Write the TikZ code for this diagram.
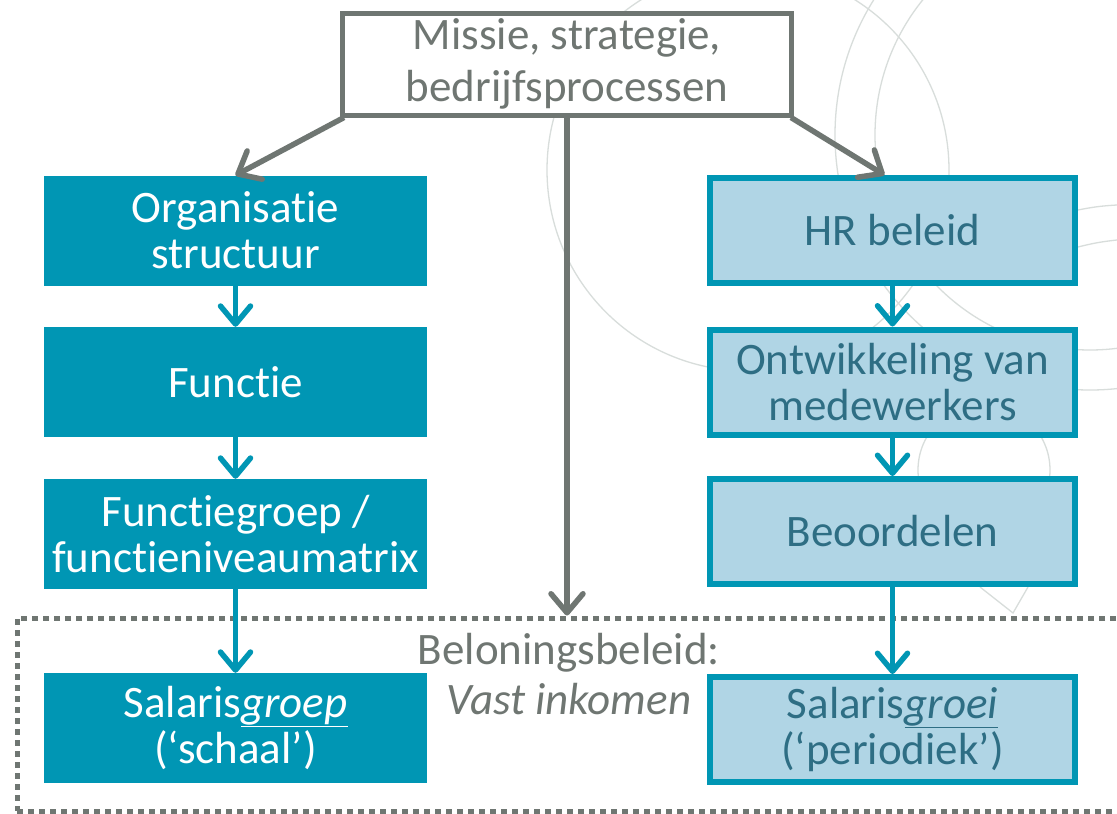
\documentclass[tikz,border=0pt]{standalone}
\usepackage{fontspec}
\setmainfont{Carlito}[Ligatures=NoCommon]
\usepackage{tikz}
\definecolor{slategray}{RGB}{111, 118, 114}
\definecolor{petrol}{RGB}{0, 150, 180}
\definecolor{paleblue}{RGB}{176, 213, 229}
\definecolor{deeppetrol}{RGB}{46, 110, 132}
\definecolor{ringgray}{RGB}{216, 221, 219}
\usetikzlibrary{arrows.meta, positioning}

\begin{document}
\begin{tikzpicture}[
    x=1pt, y=-1pt,
    every node/.style={font=\fontsize{45}{46}\selectfont, align=center, inner sep=0pt},
    missionbox/.style={rectangle, draw=slategray, line width=5pt, fill=white, text=slategray, minimum width=449pt, minimum height=102pt, font=\fontsize{45}{52}\selectfont},
    orgbox/.style={rectangle, fill=petrol, text=white, minimum width=383pt, minimum height=110pt},
    hrbox/.style={rectangle, draw=petrol, line width=6pt, fill=paleblue, text=deeppetrol, minimum width=365pt, minimum height=105pt},
    payframe/.style={rectangle, draw=slategray, line width=5pt, dash pattern=on 6pt off 5pt, minimum width=1113pt, minimum height=193pt},
    flow/.style={draw=petrol, line width=5.5pt, -{Straight Barb[round, length=18pt, width=30pt]}},
    mainflow/.style={draw=slategray, line width=5.5pt, -{Straight Barb[round, length=19pt, width=32pt]}},
    ring/.style={draw=ringgray, line width=1.3pt}
]
    \useasboundingbox[fill=white] (0,0) rectangle (1117,814);

    % Logo rings in the background
    \begin{scope}
        \clip (0,0) rectangle (1117,814);
        \draw[ring] (748,170) circle[radius=201pt];
        \draw[ring] (1090,135) circle[radius=255pt];
        \draw[ring] (1090,135) circle[radius=215pt];
        \draw[ring] (984,470) circle[radius=66pt];
        \draw[ring] (1078,210) to[bend left=4] (1117,205);
        \draw[ring] (1078,247) to[bend left=4] (1117,240);
        \draw[ring] (980,587) -- (1013,613) -- (1028,587);
    \end{scope}

    % Mission
    \node[missionbox] (miss) at (567, 64) {Missie, strategie,\\bedrijfsprocessen};

    % Organisation column
    \node[orgbox] (org) at (235.5, 230.5) {Organisatie\\structuur};
    \node[orgbox] (func) at (235.5, 382) {Functie};
    \node[orgbox] (fgrp) at (235.5, 534) {Functiegroep /\\functieniveaumatrix};
    \node[orgbox] (sgrp) at (235.5, 728) {Salaris\underline{\textit{groep}}\\(‘schaal’)};

    % HR column
    \node[hrbox] (hr) at (892.5, 230.5) {HR beleid};
    \node[hrbox] (ontw) at (892.5, 382) {Ontwikkeling van\\medewerkers};
    \node[hrbox] (beoo) at (892.5, 531.5) {Beoordelen};
    \node[hrbox] (sgroei) at (892.5, 729.5) {Salaris\underline{\textit{groei}}\\(‘periodiek’)};

    % Reward policy frame
    \node[payframe] (pay) at (573.5, 714.5) {};
    \node[text=slategray, font=\fontsize{45}{50}\selectfont] (paylbl) at (569, 674) {Beloningsbeleid:\\\textit{Vast inkomen}};

    % Arrows
    \draw[mainflow] ([xshift=4pt]miss.south west) -- (org.north);
    \draw[mainflow] ([xshift=-3pt]miss.south east) -- ([xshift=-8pt]hr.north);
    \draw[mainflow] (miss.south) -- (miss.south |- pay.north);

    \draw[flow] (org) -- (func);
    \draw[flow] (func) -- (fgrp);
    \draw[flow] (fgrp) -- (sgrp);
    \draw[flow] (hr) -- (ontw);
    \draw[flow] (ontw) -- (beoo);
    \draw[flow] (beoo) -- (sgroei);
\end{tikzpicture}
\end{document}
